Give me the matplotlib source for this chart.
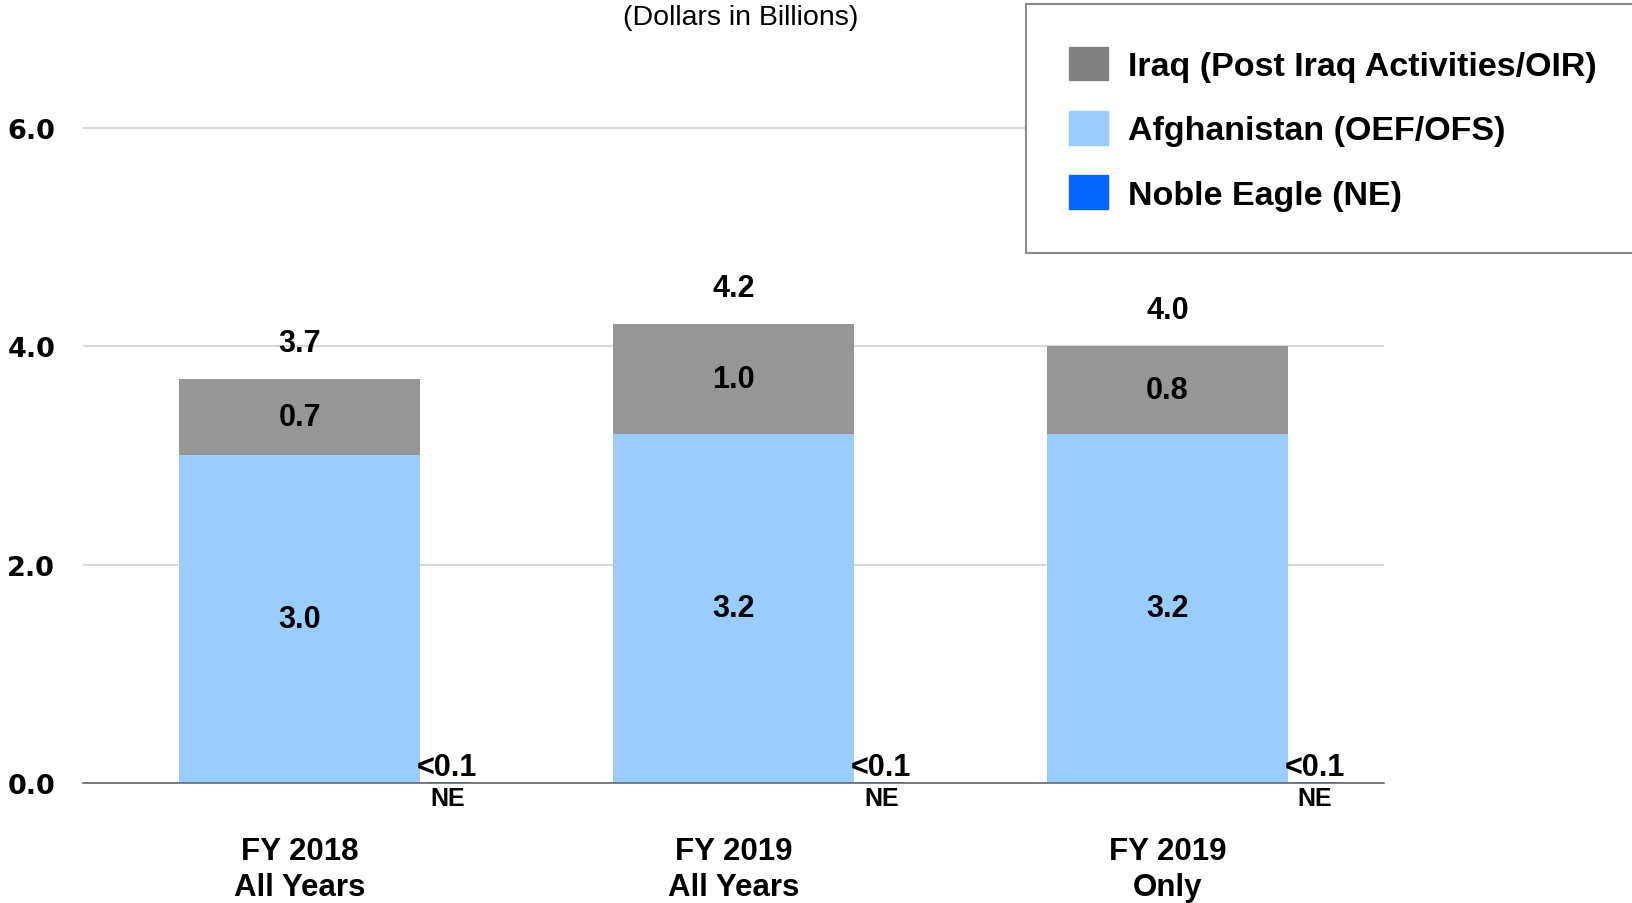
import numpy as np
from matplotlib import pyplot as plt
from matplotlib.patches import Patch

categories = ["FY 2018\nAll Years", "FY 2019\nAll Years", "FY 2019\nOnly"]
afghanistan = [3.0, 3.2, 3.2]
iraq = [0.7, 1.0, 0.8]
noble_eagle = [0.01, 0.01, 0.01]
totals = [3.7, 4.2, 4.0]
ne_label = "<0.1"

plt.rcParams["font.family"] = ["Liberation Sans", "DejaVu Sans"]

fig = plt.figure(figsize=(16.33, 9.04), dpi=100)
ax = fig.add_axes([0.0508, 0.1327, 0.797, 0.8456])

x = np.arange(len(categories))
w = 0.555
ne_off = 0.34

ax.bar(x, afghanistan, w, color="#99CCFF", zorder=2)
ax.bar(x, iraq, w, bottom=afghanistan, color="#969696", zorder=2)
ax.bar(x + ne_off, noble_eagle, 0.1, color="#0066FF", zorder=2)

for i in range(len(x)):
    ax.text(x[i], afghanistan[i] / 2, f"{afghanistan[i]:.1f}", ha="center", va="center",
            fontsize=22, fontweight="bold")
    ax.text(x[i], afghanistan[i] + iraq[i] / 2, f"{iraq[i]:.1f}", ha="center", va="center",
            fontsize=22, fontweight="bold")
    ax.text(x[i], totals[i] + 0.33, f"{totals[i]:.1f}", ha="center", va="center",
            fontsize=22, fontweight="bold")
    ax.text(x[i] + ne_off, 0.15, ne_label, ha="center", va="center",
            fontsize=22, fontweight="bold")
    ax.text(x[i] + ne_off, -0.135, "NE", ha="center", va="center",
            fontsize=18, fontweight="bold")

ax.set_xlim(-0.5, 2.5)
ax.set_ylim(0, 7)
ax.set_yticks([0, 2, 4, 6])
ax.set_yticklabels(["0.0", "2.0", "4.0", "6.0"], family="DejaVu Sans",
                   fontweight="heavy", fontsize=19.5)
ax.set_xticks(x)
ax.set_xticklabels(categories, fontsize=22.5, fontweight="bold", linespacing=1.25)
ax.tick_params(axis="both", length=0)
ax.tick_params(axis="y", pad=20)
ax.tick_params(axis="x", pad=38)

ax.grid(axis="y", color="#d9d9d9", linewidth=1.5, zorder=0)
for s in ["top", "right", "left"]:
    ax.spines[s].set_visible(False)
ax.spines["bottom"].set_color("#666666")
ax.spines["bottom"].set_linewidth(1.2)
ax.spines["bottom"].set_zorder(3)

fig.text(741 / 1633, 1 - 18 / 904, "(Dollars in Billions)", ha="center", va="center",
         fontsize=20.5)

handles = [
    Patch(color="#808080", label="Iraq (Post Iraq Activities/OIR)"),
    Patch(color="#99CCFF", label="Afghanistan (OEF/OFS)"),
    Patch(color="#0066FF", label="Noble Eagle (NE)"),
]
leg = fig.legend(handles=handles, loc="upper left",
                 bbox_to_anchor=(1026 / 1633, 1 - 5 / 904),
                 prop={"weight": "bold", "size": 24.5},
                 handlelength=1.15, handleheight=1.15, handletextpad=0.6,
                 labelspacing=0.85, borderpad=1.25, borderaxespad=0,
                 fancybox=False, framealpha=1)
leg.get_frame().set_edgecolor("#8c8c8c")
leg.get_frame().set_linewidth(1.5)

fig.savefig("out.png", dpi=100)
